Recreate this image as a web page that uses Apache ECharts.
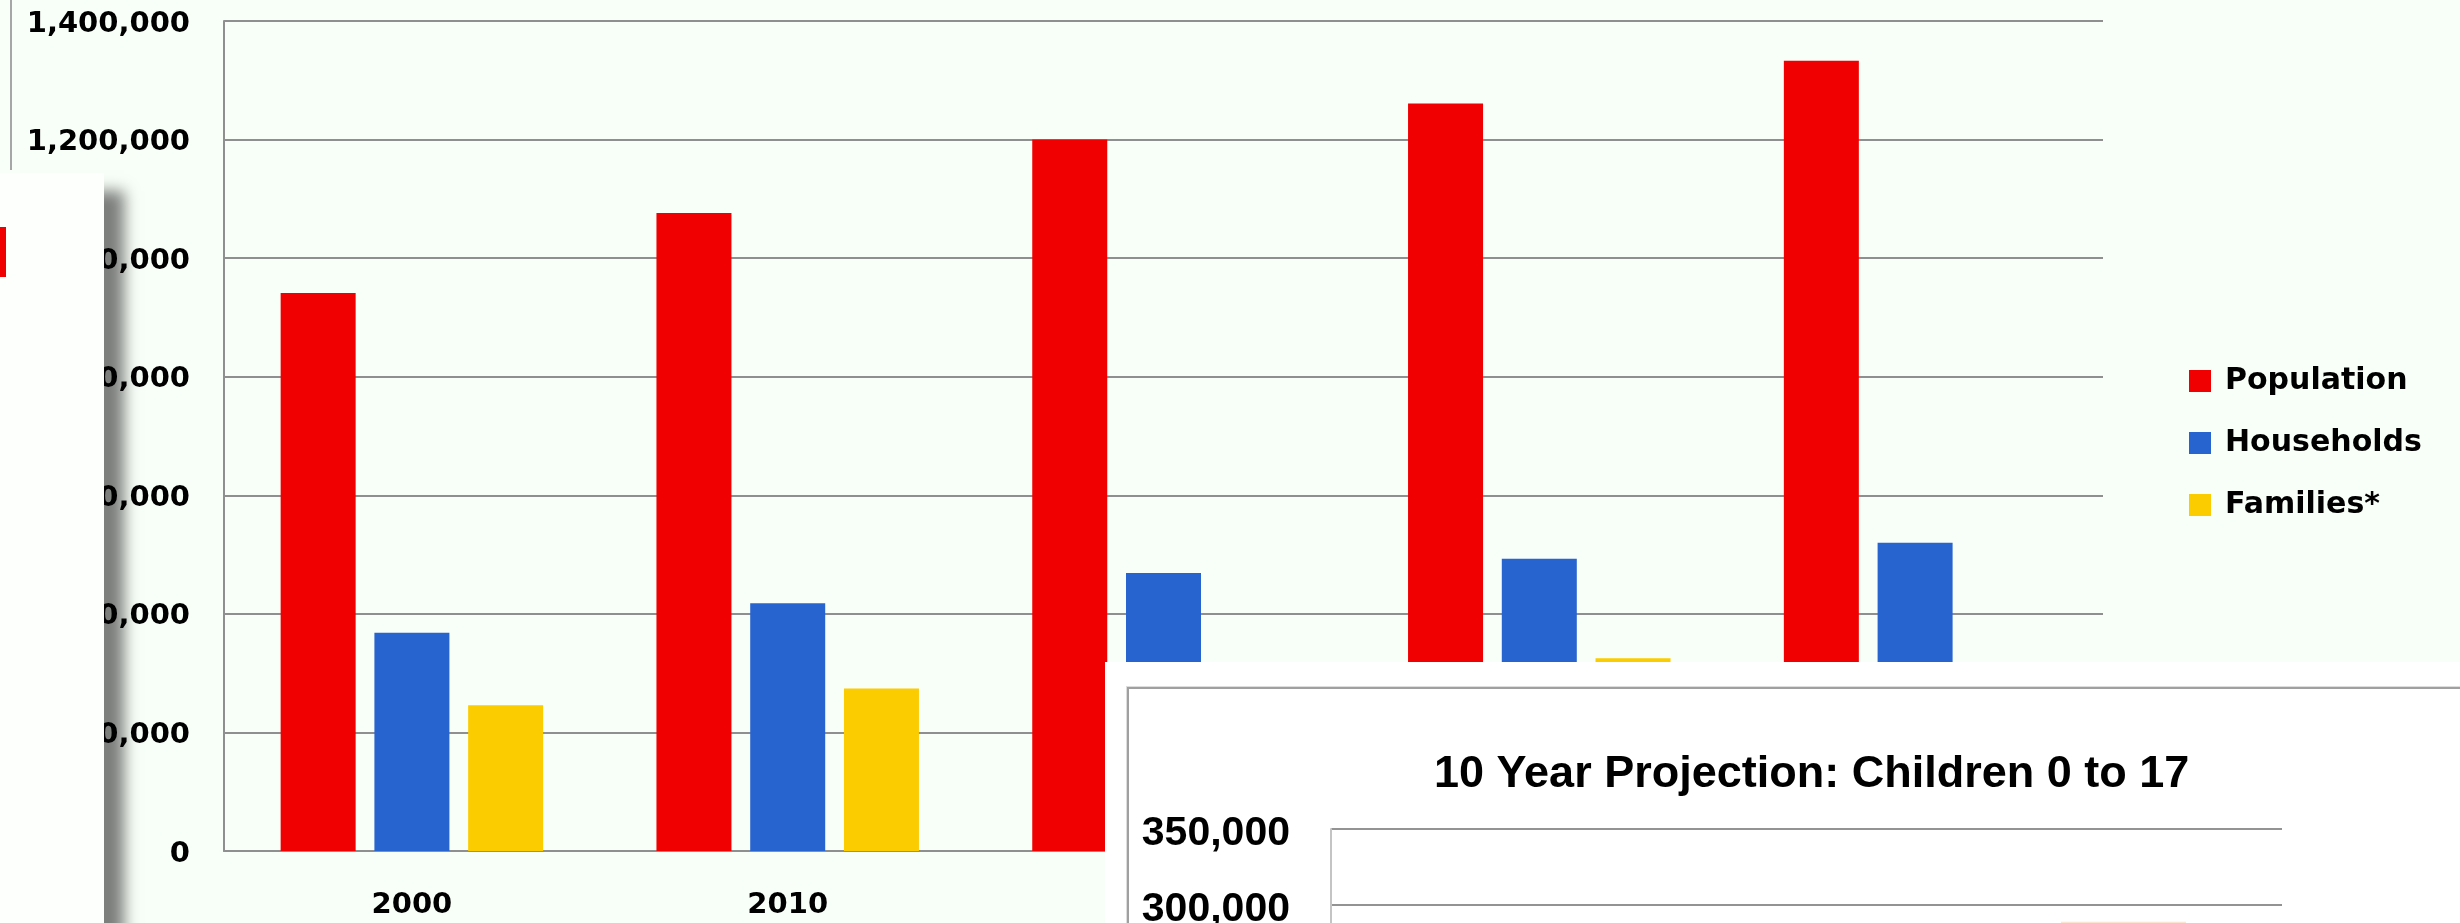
<!DOCTYPE html>
<html>
<head>
<meta charset="utf-8">
<script src="https://cdn.jsdelivr.net/npm/echarts@6/dist/echarts.min.js"></script>
<style>
  html, body { margin: 0; padding: 0; width: 2460px; height: 923px; overflow: hidden; background: #f8fef8; }
  #main { position: absolute; left: 0; top: 0; width: 2460px; height: 923px; }
  #edge { position: absolute; left: 10px; top: 0; width: 2px; height: 170px; background: #a6a6a6; }
  #side { position: absolute; left: 0; top: 173px; width: 104px; height: 800px; background: #fcfffc;
          box-shadow: 20px 18px 14px rgba(0, 0, 0, 0.5); }
  #side .mark { position: absolute; left: 0; top: 54px; width: 6px; height: 50px; background: #f00000; }
  #pane { position: absolute; left: 1105px; top: 662px; width: 1355px; height: 261px; background: #ffffff; overflow: hidden; }
  #frame { position: absolute; left: 22px; top: 25px; width: 1400px; height: 400px; border: 2px solid #a0a0a0;
           box-shadow: 0 0 0 1px #dddddd; }
  #proj { position: absolute; left: 0; top: 0; width: 1355px; height: 800px; }
</style>
</head>
<body>
<div id="main"></div>
<div id="edge"></div>
<div id="side"><div class="mark"></div></div>
<div id="pane">
  <div id="frame"></div>
  <div id="proj"></div>
</div>
<script>
// Population, households and families by year
const years = ['2000', '2010', '2015', '2020', '2025'];
const population = [941000, 1076000, 1200000, 1261000, 1333000];
const households = [368000, 418000, 469000, 493000, 520000];
const families = [246000, 274000, 300000, 325000, 315000];
const seriesNames = ['Population', 'Households', 'Families*'];
const seriesColors = ['#f00000', '#2864cf', '#fbcc00'];

// Children 0 to 17 projection
const projTitle = '10 Year Projection: Children 0 to 17';
const projYears = ['2010', '2015', '2020'];
const children = [262000, 276000, 289000];

const withCommas = v => Number(v).toLocaleString('en-US');
const gridGray = '#8f8f8f';
const boldDejaVu = { fontFamily: 'DejaVu Sans', fontWeight: 'bold', color: '#000' };

const main = echarts.init(document.getElementById('main'), null, { renderer: 'canvas' });
main.setOption({
  animation: false,
  backgroundColor: '#f8fef8',
  grid: { left: 224, right: 357, top: 21, bottom: 72 },
  legend: {
    orient: 'vertical',
    left: 2189,
    top: 366,
    padding: 0,
    itemWidth: 22,
    itemHeight: 22,
    itemGap: 32,
    icon: 'rect',
    data: seriesNames,
    textStyle: Object.assign({ fontSize: 30, padding: [0, 0, 0, 9] }, boldDejaVu)
  },
  xAxis: {
    type: 'category',
    data: years,
    axisLine: { lineStyle: { color: gridGray, width: 2 } },
    axisTick: { show: false },
    axisLabel: Object.assign({ fontSize: 29, margin: 40 }, boldDejaVu)
  },
  yAxis: {
    type: 'value',
    min: 0,
    max: 1400000,
    interval: 200000,
    axisLine: { show: true, lineStyle: { color: gridGray, width: 2 } },
    axisTick: { show: false },
    splitLine: { lineStyle: { color: gridGray, width: 2 } },
    axisLabel: Object.assign({ fontSize: 29, margin: 34, formatter: withCommas,
                               verticalAlign: 'top', lineHeight: 6 }, boldDejaVu)
  },
  series: [population, households, families].map((vals, i) => ({
    name: seriesNames[i],
    type: 'bar',
    data: vals,
    barWidth: 75,
    barGap: '25%',
    itemStyle: { color: seriesColors[i] }
  }))
});

const proj = echarts.init(document.getElementById('proj'), null, { renderer: 'canvas' });
const sansBold = { fontFamily: 'Liberation Sans', fontWeight: 'bold', color: '#000' };
proj.setOption({
  animation: false,
  title: {
    text: projTitle,
    left: 329,
    top: 90,
    padding: 0,
    textStyle: Object.assign({ fontSize: 45 }, sansBold)
  },
  grid: { left: 226, right: 178, top: 167, bottom: 101 },
  xAxis: {
    type: 'category',
    data: projYears,
    axisLine: { lineStyle: { color: '#c4c4c4', width: 2 } },
    axisTick: { show: false },
    axisLabel: Object.assign({ fontSize: 41 }, sansBold)
  },
  yAxis: {
    type: 'value',
    min: 0,
    max: 350000,
    interval: 50000,
    axisLine: { show: true, lineStyle: { color: '#c4c4c4', width: 2 } },
    axisTick: { show: false },
    splitLine: { lineStyle: { color: '#939393', width: 2 } },
    axisLabel: Object.assign({ fontSize: 41, margin: 41, formatter: withCommas,
                               verticalAlign: 'top', lineHeight: 9 }, sansBold)
  },
  series: [{
    name: 'Children 0 to 17',
    type: 'bar',
    data: children,
    barWidth: 125,
    itemStyle: { color: '#fce4d2' }
  }]
});
</script>
</body>
</html>
